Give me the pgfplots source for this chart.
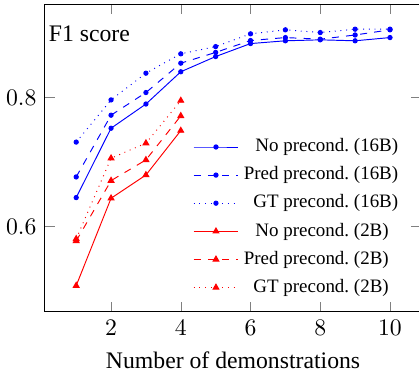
\documentclass[border=0pt]{standalone}
\usepackage{pgfplots}
\pgfplotsset{compat=1.18}
\usepackage{fontspec}
\setmainfont{Liberation Serif}
\newcommand{\lt}[2]{\makebox[44.6pt][r]{#1}~(#2)}
\begin{document}
\begin{tikzpicture}
\begin{axis}[
  scale only axis, width=158.8pt, height=129.8pt,
  xmin=0.1, xmax=10.9, ymin=0.468, ymax=0.945,
  xtick={2,4,6,8,10}, ytick={0.6,0.8},
  xlabel={Number of demonstrations},
  title={F1 score},
  title style={at={(rel axis cs:0,1)}, anchor=base west, xshift=1.5pt, yshift=-21.8pt, inner sep=0pt},
  legend cell align=left,
  legend image code/.code={\draw[mark repeat=2,mark phase=2] plot coordinates {(0cm,0cm) (0.33cm,0cm) (0.66cm,0cm)};},
  legend style={draw=none, fill=none, font=\footnotesize, row sep=0.8pt, at={(rel axis cs:0.374,0.595)}, anchor=north west},
]
\coordinate (ll) at (rel axis cs:0,0);
\coordinate (ur) at (rel axis cs:1,1);
\addplot[blue, mark=*, mark size=0.9pt] coordinates {(1,0.645)(2,0.7525)(3,0.790)(4,0.840)(5,0.8636)(6,0.8837)(7,0.888)(8,0.8895)(9,0.888)(10,0.893)};
\addlegendentry{\lt{No precond.}{16B}}
\addplot[blue, dashed, mark=*, mark size=0.9pt, mark options={solid}] coordinates {(1,0.677)(2,0.7727)(3,0.8078)(4,0.8533)(5,0.870)(6,0.8884)(7,0.893)(8,0.8905)(9,0.897)(10,0.905)};
\addlegendentry{\lt{Pred precond.}{16B}}
\addplot[blue, dotted, mark=*, mark size=0.9pt, mark options={solid}] coordinates {(1,0.731)(2,0.7964)(3,0.8378)(4,0.8678)(5,0.879)(6,0.8988)(7,0.905)(8,0.9008)(9,0.906)(10,0.906)};
\addlegendentry{\lt{GT precond.}{16B}}
\addplot[red, mark=triangle*, mark size=1.4pt] coordinates {(1,0.5085)(2,0.644)(3,0.680)(4,0.7488)};
\addlegendentry{\lt{No precond.}{2B}}
\addplot[red, dashed, mark=triangle*, mark size=1.4pt, mark options={solid}] coordinates {(1,0.5778)(2,0.6713)(3,0.7034)(4,0.7716)};
\addlegendentry{\lt{Pred precond.}{2B}}
\addplot[red, dotted, mark=triangle*, mark size=1.4pt, mark options={solid}] coordinates {(1,0.581)(2,0.706)(3,0.7293)(4,0.7953)};
\addlegendentry{\lt{GT precond.}{2B}}
\end{axis}
\pgfresetboundingbox
\path[use as bounding box] ([xshift=-18.9pt, yshift=-24.3pt]ll) rectangle ([xshift=-1pt, yshift=1.7pt]ur);
\end{tikzpicture}
\end{document}
